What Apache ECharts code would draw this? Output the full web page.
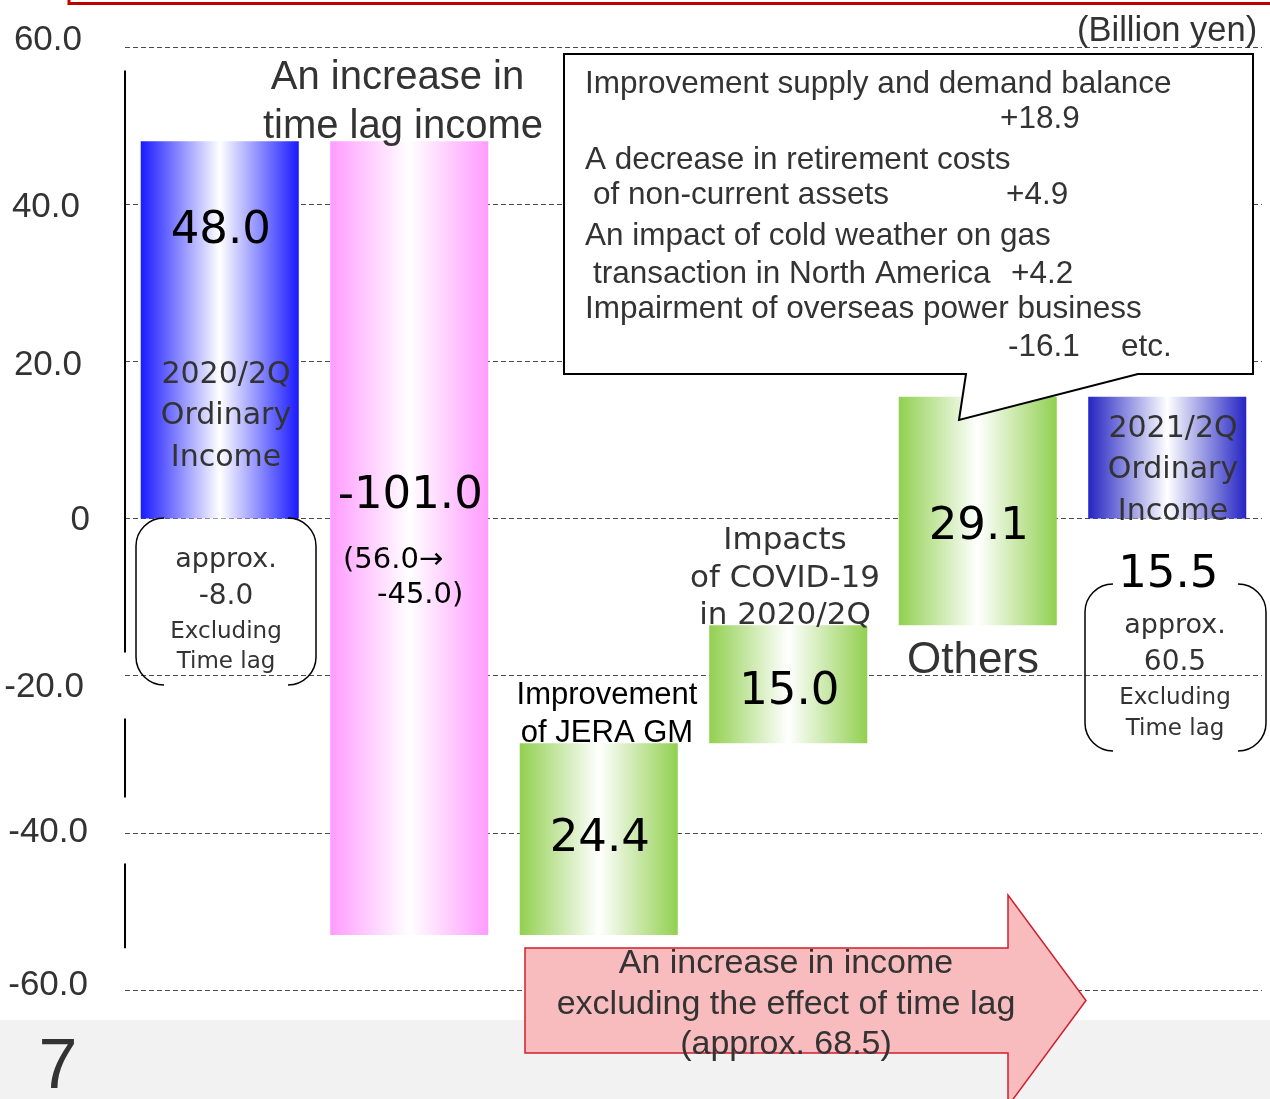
<!DOCTYPE html>
<html>
<head>
<meta charset="utf-8">
<script src="https://cdn.jsdelivr.net/npm/echarts@6/dist/echarts.min.js"></script>
<style>
  html, body { margin: 0; padding: 0; background: #ffffff; }
  #chart { width: 1270px; height: 1099px; }
</style>
</head>
<body>
<div id="chart"></div>
<script>
// Ordinary income bridge, 2020/2Q -> 2021/2Q (billion yen)
const categories = [
  '2020/2Q Ordinary Income',
  'An increase in time lag income',
  'Improvement of JERA GM',
  'Impacts of COVID-19 in 2020/2Q',
  'Others',
  '2021/2Q Ordinary Income'
];
// first and last entries are totals, the rest are changes
const changes = [48.0, -101.0, 24.4, 15.0, 29.1, 15.5];
const isTotal = [true, false, false, false, false, true];

const yTicks = [-60, -40, -20, 0, 20, 40, 60];
const yTickLabels = ['-60.0', '-40.0', '-20.0', '0', '20.0', '40.0', '60.0'];

// pieces of the vertical axis rule (value ranges)
const axisRuleSpans = [[57.0, -17.05], [-25.45, -35.5], [-43.9, -54.7]];

// ---- build floating bars ----
const barData = [];
let running = 0;
changes.forEach((v, i) => {
  let start, end;
  if (isTotal[i]) { start = 0; end = v; running = v; }
  else { start = running; end = running + v; running = end; }
  barData.push([i, start, end]);
});

const barColor = ['#1a1aff', '#ff9cff', '#92d050', '#92d050', '#92d050', '#2424c4'];
const labelShift = [-99, -42, 0, 8, 16, 118];

function renderBar(params, api) {
  const i = api.value(0);
  const p0 = api.coord([i, api.value(1)]);
  const p1 = api.coord([i, api.value(2)]);
  const w = api.size([1, 0])[0] * 0.834;
  const top = Math.min(p0[1], p1[1]);
  const h = Math.abs(p1[1] - p0[1]);
  const c = barColor[i];
  return {
    type: 'group',
    children: [
      {
        type: 'rect',
        shape: { x: p0[0] - w / 2, y: top, width: w, height: h },
        style: {
          fill: {
            type: 'linear', x: 0, y: 0, x2: 1, y2: 0,
            colorStops: [
              { offset: 0, color: c },
              { offset: 0.5, color: '#ffffff' },
              { offset: 1, color: c }
            ]
          }
        }
      },
      {
        type: 'text',
        x: p0[0] + 1,
        y: top + h / 2 + labelShift[i],
        z2: 10,
        style: {
          text: changes[i].toFixed(1),
          fill: '#000000',
          font: '45px "DejaVu Sans"',
          align: 'center',
          verticalAlign: 'middle'
        }
      }
    ]
  };
}

// small per-label nudges of the value-axis labels: [left shift, down shift]
const labelNudge = { '60': [8, -7], '40': [10, 3], '20': [8, 4], '0': [0, 2], '-20': [6, 12], '-40': [2, 0], '-60': [2, -5] };
const rich = {};
yTicks.forEach((t, k) => {
  const n = labelNudge[String(t)];
  rich['t' + k] = {
    fontSize: 35, fontFamily: 'Liberation Sans', color: '#333333',
    padding: [Math.max(0, 2 * n[1]), n[0], Math.max(0, -2 * n[1]), 0]
  };
});

const chart = echarts.init(document.getElementById('chart'), null, { renderer: 'canvas' });

chart.setOption({
  animation: false,
  backgroundColor: '#ffffff',
  grid: { left: 125, right: 8, top: 47, bottom: 109 },
  xAxis: {
    type: 'category',
    data: categories,
    axisLine: { show: false },
    axisTick: { show: false },
    axisLabel: { show: false },
    splitLine: { show: false }
  },
  yAxis: {
    type: 'value',
    min: -60, max: 60, interval: 20,
    axisLine: { show: false },
    axisTick: { show: false },
    axisLabel: {
      margin: 35,
      formatter: function (v) {
        const k = yTicks.indexOf(v);
        return '{t' + k + '|' + yTickLabels[k] + '}';
      },
      rich: rich
    },
    splitLine: { lineStyle: { color: '#4a4a4a', width: 1, type: [5, 3] } }
  },
  series: [{
    type: 'custom',
    renderItem: renderBar,
    encode: { x: 0, y: [1, 2] },
    data: barData,
    z: 3
  }]
});

function txt(x, y, text, size, family, color, align, lineHeight) {
  return {
    type: 'text', x: x, y: y + 2.5, z: 20,
    style: {
      text: text, fill: color,
      font: size + 'px ' + family,
      align: align || 'center', verticalAlign: 'middle',
      lineHeight: lineHeight || Math.round(size * 1.2)
    }
  };
}
// a pair of rounded brackets, built from arcs and straight lines
function bracketPair(x0, y0, x1, y1, r) {
  const st = { fill: 'none', stroke: '#000000', lineWidth: 1.5 };
  const P = Math.PI;
  const arc = (cx, cy, a0, a1) => ({ type: 'arc', z: 12, shape: { cx: cx, cy: cy, r: r, startAngle: a0, endAngle: a1, clockwise: true }, style: st });
  const line = (x, ya, yb) => ({ type: 'line', z: 12, shape: { x1: x, y1: ya, x2: x, y2: yb }, style: st });
  return [
    arc(x0 + r, y0 + r, P, 1.5 * P),
    line(x0, y0 + r, y1 - r),
    arc(x0 + r, y1 - r, 0.5 * P, P),
    arc(x1 - r, y0 + r, -0.5 * P, 0),
    line(x1, y0 + r, y1 - r),
    arc(x1 - r, y1 - r, 0, 0.5 * P)
  ];
}

const AR = '"Liberation Sans", Arial, sans-serif';
const DV = '"DejaVu Sans", Verdana, sans-serif';
const gridLeft = 125;

const rules = axisRuleSpans.map(s => {
  const a = chart.convertToPixel({ gridIndex: 0 }, [0, s[0]])[1];
  const b = chart.convertToPixel({ gridIndex: 0 }, [0, s[1]])[1];
  return { type: 'line', z: 6, shape: { x1: gridLeft, y1: a, x2: gridLeft, y2: b }, style: { stroke: '#000000', lineWidth: 2 } };
});

const elements = [
  // footer band and page number
  { type: 'rect', z: 1, shape: { x: 0, y: 1020, width: 1270, height: 79 }, style: { fill: '#f2f2f2' } },
  txt(58, 1066, '7', 70, AR, '#333333'),
  // red frame edge at the top
  { type: 'polyline', z: 20, shape: { points: [[69, -2], [69, 3.5], [1272, 3.5]] }, style: { stroke: '#c00000', lineWidth: 3, fill: 'none' } },
  // unit
  txt(1077, 29, '(Billion yen)', 34.5, AR, '#333333', 'left'),
  // heading over the time-lag bar
  txt(403, 99.5, 'An increase in \ntime lag income', 40, AR, '#333333', 'center', 49),
  // callout with its pointer
  {
    type: 'polygon', z: 15,
    shape: { points: [[564, 54], [1253, 54], [1253, 374], [1138, 374], [959, 420], [966, 374], [564, 374]] },
    style: { fill: '#ffffff', stroke: '#000000', lineWidth: 2 }
  },
  txt(585, 82, 'Improvement supply and demand balance', 31.5, AR, '#333333', 'left'),
  txt(1000, 117, '+18.9', 31.5, AR, '#333333', 'left'),
  txt(585, 158, 'A decrease in retirement costs', 31.5, AR, '#333333', 'left'),
  txt(593, 193, 'of non-current assets', 31.5, AR, '#333333', 'left'),
  txt(1006, 193, '+4.9', 31.5, AR, '#333333', 'left'),
  txt(585, 234, 'An impact of cold weather on gas', 31.5, AR, '#333333', 'left'),
  txt(593, 272, 'transaction in North America', 31.5, AR, '#333333', 'left'),
  txt(1011, 272, '+4.2', 31.5, AR, '#333333', 'left'),
  txt(585, 307, 'Impairment of overseas power business', 31.5, AR, '#333333', 'left'),
  txt(1008, 345, '-16.1', 31.5, AR, '#333333', 'left'),
  txt(1121, 345, 'etc.', 31.5, AR, '#333333', 'left'),
  // names in and around the bars
  txt(226, 414, '2020/2Q\nOrdinary\nIncome', 30, DV, '#333333', 'center', 41.5),
  txt(1173, 468, '2021/2Q\nOrdinary\nIncome', 30, DV, '#333333', 'center', 41.5),
  txt(343, 558, '(56.0→', 29, DV, '#000000', 'left'),
  txt(377, 593, '-45.0)', 29, DV, '#000000', 'left'),
  txt(607, 712, 'Improvement\nof JERA GM', 31, AR, '#000000', 'center', 38),
  txt(785, 576, 'Impacts\nof COVID-19\nin 2020/2Q', 31, DV, '#333333', 'center', 37.5),
  txt(973, 658, 'Others', 44, AR, '#333333'),
  // bracketed notes
  txt(226, 557, 'approx.', 27, DV, '#333333'),
  txt(226, 594, '-8.0', 28, DV, '#333333'),
  txt(226, 630, 'Excluding', 23, DV, '#333333'),
  txt(226, 660, 'Time lag', 23, DV, '#333333'),
  txt(1175, 623, 'approx.', 27, DV, '#333333'),
  txt(1175, 660, '60.5', 28, DV, '#333333'),
  txt(1175, 696, 'Excluding', 23, DV, '#333333'),
  txt(1175, 727, 'Time lag', 23, DV, '#333333'),
  // block arrow
  {
    type: 'polygon', z: 8,
    shape: { points: [[525, 948], [1008, 948], [1008, 895], [1086, 1000.5], [1008, 1106], [1008, 1053], [525, 1053]] },
    style: { fill: '#f8bbbe', stroke: '#d0202c', lineWidth: 1.5 }
  },
  txt(786, 1002, 'An increase in income\nexcluding the effect of time lag\n(approx. 68.5)', 34, AR, '#333333', 'center', 40.5)
].concat(bracketPair(136, 518, 316, 685, 28))
 .concat(bracketPair(1085, 584, 1266, 751, 28))
 .concat(rules);

chart.setOption({ graphic: { elements: elements } });
</script>
</body>
</html>
